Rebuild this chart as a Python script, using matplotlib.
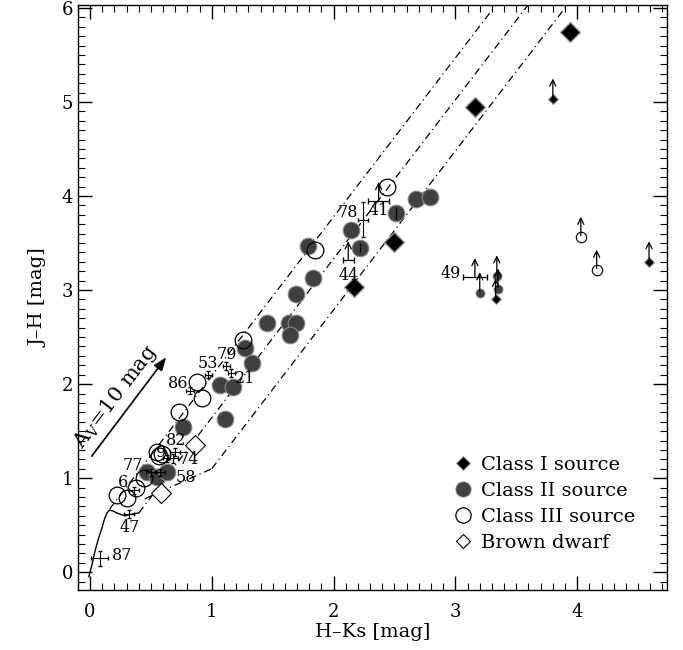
import numpy as np
import matplotlib
matplotlib.use('Agg')
import matplotlib.pyplot as plt
from matplotlib.ticker import MultipleLocator
from matplotlib.lines import Line2D

plt.rcParams['font.family'] = 'DejaVu Serif'
plt.rcParams['mathtext.fontset'] = 'dejavuserif'

# Class I sources (detections and lower limits)
class1_hk = [3.94, 3.16, 2.50, 2.17]
class1_jh = [5.74, 4.95, 3.51, 3.03]
class1_lim_hk = [3.80, 4.59, 3.33]
class1_lim_jh = [5.03, 3.30, 2.90]

# Class II sources
class2_hk = [1.27, 1.33, 1.07, 1.17, 1.11, 0.76, 0.47, 0.55, 0.63, 1.79, 1.83,
             1.69, 1.45, 1.63, 1.69, 1.64, 2.14, 2.22, 2.51, 2.68, 2.79]
class2_jh = [2.38, 2.22, 1.99, 1.97, 1.63, 1.54, 1.06, 1.01, 1.06, 3.47, 3.13,
             2.96, 2.65, 2.65, 2.65, 2.52, 3.64, 3.45, 3.82, 3.97, 3.99]
class2_lim_hk = [3.20, 3.34, 3.35]
class2_lim_jh = [2.97, 3.15, 3.01]

# Class III sources
class3_hk = [0.22, 0.30, 0.38, 0.44, 0.55, 0.57, 0.59, 0.73, 0.88, 0.92, 1.26, 1.85, 2.44]
class3_jh = [0.82, 0.79, 0.90, 1.00, 1.28, 1.24, 1.26, 1.70, 2.02, 1.85, 2.47, 3.43, 4.10]
class3_lim_hk = [4.03, 4.16]
class3_lim_jh = [3.56, 3.21]

# Brown dwarfs
bd_hk = [0.86, 0.58]
bd_jh = [1.35, 0.84]

# Numbered sources with error bars: id, H-K, J-H, err(H-K), err(J-H)
err_id = ['87', '47', '6', '77', '58', '9', '74', '82', '86', '53', '79', '21', '78']
err_hk = [0.08, 0.32, 0.36, 0.50, 0.575, 0.63, 0.68, 0.70, 0.82, 0.97, 1.12, 1.16, 2.24]
err_jh = [0.15, 0.62, 0.87, 1.06, 1.06, 1.21, 1.21, 1.28, 1.93, 2.10, 2.19, 2.12, 3.75]
err_dhk = [0.07, 0.04, 0.04, 0.04, 0.04, 0.03, 0.04, 0.04, 0.03, 0.03, 0.03, 0.03, 0.04]
err_djh = [0.08, 0.04, 0.04, 0.04, 0.04, 0.04, 0.05, 0.04, 0.04, 0.04, 0.04, 0.04, 0.19]
label_hk = [0.18, 0.33, 0.27, 0.35, 0.79, 0.58, 0.81, 0.71, 0.72, 0.97, 1.12, 1.27, 2.12]
label_jh = [0.18, 0.48, 0.95, 1.13, 1.01, 1.27, 1.20, 1.40, 2.01, 2.22, 2.31, 2.06, 3.83]

# Numbered lower limits: id, H-K, J-H, err(H-K)
lim_id = ['44', '41', '49']
lim_hk = [2.12, 2.37, 3.16]
lim_jh = [3.32, 3.95, 3.14]
lim_dhk = [0.045, 0.085, 0.10]
lim_label_hk = [2.12, 2.37, 2.96]
lim_label_jh = [3.15, 3.85, 3.18]

# Main-sequence dwarf locus
dwarf_hk = [-0.01, 0.00, 0.02, 0.04, 0.07, 0.10, 0.12, 0.14, 0.16, 0.19, 0.22, 0.26, 0.29, 0.32, 0.36, 0.40]
dwarf_jh = [-0.05, 0.00, 0.10, 0.22, 0.36, 0.48, 0.57, 0.63, 0.66, 0.65, 0.63, 0.61, 0.60, 0.61, 0.62, 0.63]

# CTTS locus end points and reddening band
ctts_hk = [0.45, 1.00]
ctts_jh = [0.78, 1.10]
redden_slope = 1.69
redden_start_hk = [0.16, 0.40, 1.00]
redden_start_jh = [0.67, 0.63, 1.10]

# Extinction vector A_V = 10 mag
av_hk = [0.0, 0.64]
av_jh = [1.21, 2.31]

fig = plt.figure(figsize=(6.83, 6.5), dpi=100)
ax = fig.add_axes([0.114, 0.0923, 0.863, 0.8997])
xmin, xmax = -0.1, 4.74
ymin, ymax = -0.19, 6.03

ax.plot(dwarf_hk, dwarf_jh, color='black', lw=1.0, zorder=2)
dashdot = (0, (6, 3, 1, 3))
ax.plot(ctts_hk, ctts_jh, color='black', lw=0.9, ls=dashdot, zorder=2)
for x0, y0 in zip(redden_start_hk, redden_start_jh):
    x1 = x0 + (ymax - y0) / redden_slope
    ax.plot([x0, x1], [y0, ymax], color='black', lw=0.9, ls=dashdot, zorder=2)

# extinction vector
ax.annotate('', xy=(av_hk[1], av_jh[1]), xytext=(av_hk[0], av_jh[0]),
            arrowprops=dict(arrowstyle='-|>,head_length=0.8,head_width=0.3',
                            color='black', lw=1.2))
ax.text(0.21, 1.87, r'A$_{\rm V}$=10 mag', rotation=52.5, fontsize=15,
        ha='center', va='center', rotation_mode='anchor')

big = 12
small = 6.5
gray = '#404040'

# Class II
ax.plot(class2_hk, class2_jh, 'o', ms=big, mfc=gray, mec='#8a8a8a', mew=0.8, ls='none', zorder=3)
ax.plot(class2_lim_hk, class2_lim_jh, 'o', ms=small, mfc=gray, mec='#8a8a8a', mew=0.6, ls='none', zorder=3)
# Class III
ax.plot(class3_hk, class3_jh, 'o', ms=big, mfc='none', mec='black', mew=0.9, ls='none', zorder=4)
ax.plot(class3_lim_hk, class3_lim_jh, 'o', ms=small + 1, mfc='white', mec='black', mew=0.8, ls='none', zorder=4)
# Class I
ax.plot(class1_hk, class1_jh, 'D', ms=10.5, mfc='black', mec='#999999', mew=1.0, ls='none', zorder=4)
ax.plot(class1_lim_hk, class1_lim_jh, 'D', ms=5, mfc='black', mec='#999999', mew=0.8, ls='none', zorder=4)
# Brown dwarfs
ax.plot(bd_hk, bd_jh, 'D', ms=10, mfc='white', mec='black', mew=0.8, ls='none', zorder=4)

# lower-limit arrows
arrow_kw = dict(arrowstyle='->,head_length=0.45,head_width=0.22', color='black', lw=0.9,
                shrinkA=0, shrinkB=0)
for xs, ys in [(class1_lim_hk, class1_lim_jh), (class2_lim_hk, class2_lim_jh),
               (class3_lim_hk, class3_lim_jh)]:
    for x, y in zip(xs, ys):
        ax.annotate('', xy=(x, y + 0.22), xytext=(x, y + 0.02), arrowprops=arrow_kw, zorder=5)

for i, x, y, dx, lx, ly in zip(lim_id, lim_hk, lim_jh, lim_dhk, lim_label_hk, lim_label_jh):
    ax.errorbar(x, y, xerr=dx, fmt='none', ecolor='black', elinewidth=0.9, capsize=2, zorder=5)
    ax.annotate('', xy=(x, y + 0.2), xytext=(x, y), arrowprops=arrow_kw, zorder=5)
    ax.text(lx, ly, i, fontsize=11.5, ha='center', va='center', zorder=6)

# numbered sources with error bars
ax.errorbar(err_hk, err_jh, xerr=err_dhk, yerr=err_djh, fmt='none', ecolor='black',
            elinewidth=0.8, capsize=1.5, zorder=5)
for i, lx, ly in zip(err_id, label_hk, label_jh):
    ha = 'left' if i == '87' else 'center'
    ax.text(lx, ly, i, fontsize=11.5, ha=ha, va='center', zorder=6)

# error bars on two Class II sources
ax.errorbar([2.22, 2.51], [3.45, 3.82], yerr=[0.05, 0.06], fmt='none', ecolor='black',
            elinewidth=0.9, capsize=0, zorder=5)

ax.set_xlim(xmin, xmax)
ax.set_ylim(ymin, ymax)
ax.xaxis.set_major_locator(MultipleLocator(1))
ax.xaxis.set_minor_locator(MultipleLocator(0.1))
ax.yaxis.set_major_locator(MultipleLocator(1))
ax.yaxis.set_minor_locator(MultipleLocator(0.1))
ax.tick_params(which='both', direction='in', top=True, right=True, labelsize=13)
ax.tick_params(which='major', length=10, width=1)
ax.tick_params(which='minor', length=5, width=0.8)
ax.tick_params(axis='x', pad=9)
ax.set_xlabel('H–Ks [mag]', fontsize=14, labelpad=2)
ax.set_ylabel('J–H [mag]', fontsize=14, labelpad=10)
for s in ax.spines.values():
    s.set_linewidth(1.0)

handles = [
    Line2D([], [], marker='D', ls='none', ms=7, mfc='black', mec='#999999', mew=0.8),
    Line2D([], [], marker='o', ls='none', ms=11, mfc=gray, mec='#8a8a8a', mew=0.6),
    Line2D([], [], marker='o', ls='none', ms=11, mfc='none', mec='black', mew=0.9),
    Line2D([], [], marker='D', ls='none', ms=7, mfc='white', mec='black', mew=0.8),
]
labels = ['Class I source', 'Class II source', 'Class III source', 'Brown dwarf']
ax.legend(handles, labels, loc='lower right', bbox_to_anchor=(0.975, 0.035), frameon=False,
          fontsize=14, handletextpad=0.3, labelspacing=0.42, handlelength=1.2)

fig.savefig('out.png', dpi=100)
